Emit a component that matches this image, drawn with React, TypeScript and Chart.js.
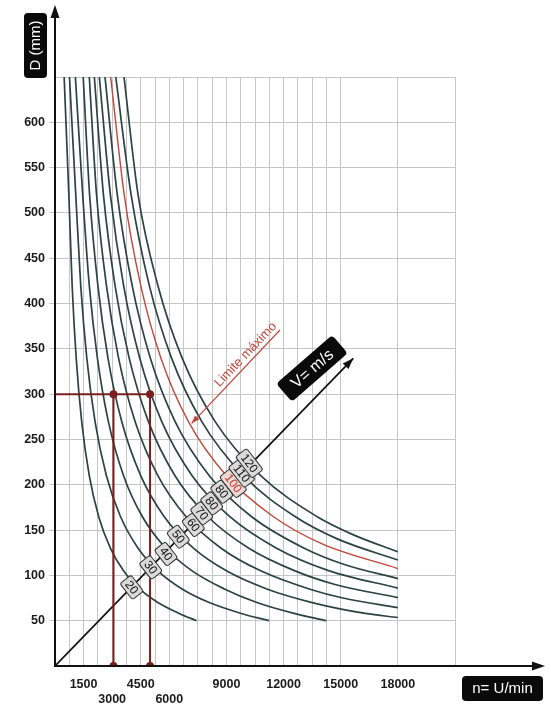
import React, { useEffect, useRef } from 'react';
import { Chart, registerables } from 'chart.js';

Chart.register(...registerables);

// ---- data (n in U/min, D in mm) ----
const speedLabels = ['20', '30', '40', '50', '60', '70', '80', '80', '100', '110', '120'];
const limitIndex = 8; // V = 100 m/s curve drawn in red

const curveV20 = [[480, 650], [727, 520], [900, 420], [1112, 340], [1400, 270], [1800, 210], [2291, 165], [2908, 130], [3600, 105], [4447, 85], [5400, 70], [6517, 58], [7430, 50]];
const curveV30 = [[760, 650], [1090, 520], [1350, 420], [1668, 340], [2100, 270], [2700, 210], [3436, 165], [4362, 130], [5400, 105], [6671, 85], [8100, 70], [9776, 58], [11240, 50]];
const curveV40 = [[1070, 650], [1454, 520], [1800, 420], [2224, 340], [2800, 270], [3600, 210], [4582, 165], [5815, 130], [7200, 105], [8894, 85], [10600, 70], [12550, 58], [14250, 50]];
const curveV50 = [[1480, 650], [1817, 520], [2250, 420], [2779, 340], [3500, 270], [4500, 210], [5727, 165], [7269, 130], [9000, 105], [11118, 85], [13500, 70], [16293, 58], [18000, 53.5]];
const curveV60 = [[1800, 650], [2181, 520], [2700, 420], [3335, 340], [4200, 270], [5400, 210], [6873, 165], [8723, 130], [10800, 105], [13341, 85], [15120, 75], [18000, 64.5]];
const curveV70 = [[2065, 650], [2544, 520], [3150, 420], [3891, 340], [4900, 270], [6300, 210], [8018, 165], [10177, 130], [12600, 105], [14700, 90], [18000, 75.5]];
const curveV80 = [[2327, 650], [2908, 520], [3600, 420], [4447, 340], [5600, 270], [7200, 210], [9164, 165], [11631, 130], [14400, 105], [18000, 86]];
const curveV90 = [[2625, 650], [3271, 520], [4050, 420], [5003, 340], [6300, 270], [8100, 210], [10309, 165], [13085, 130], [15188, 112], [18000, 96.5]];
const curveV100 = [[2923, 650], [3635, 520], [4500, 420], [5559, 340], [7000, 270], [9000, 210], [11455, 165], [14000, 135], [18000, 107.5]];
const curveV110 = [[3190, 650], [3998, 520], [4950, 420], [6115, 340], [7700, 270], [9900, 210], [12600, 165], [14850, 140], [18000, 117]];
const curveV120 = [[3622, 650], [4362, 520], [5400, 420], [6671, 340], [8400, 270], [10800, 210], [13745, 165], [15641, 145], [18000, 126]];
const curves = [curveV20, curveV30, curveV40, curveV50, curveV60, curveV70, curveV80, curveV90, curveV100, curveV110, curveV120];

// speed label boxes on the diagonal
const labelN = [4027, 5024, 5827, 6473, 7261, 7702, 8227, 8752, 9361, 9802, 10201];
const labelD = [86.8, 108.9, 123.6, 142.7, 155.6, 168.5, 179.5, 192.3, 201.6, 212.6, 223.7];

// diagonal V axis
const diagonalN = [0, 15660];
const diagonalD = [0, 339.5];

// "Limite máximo" pointer line (tail, head)
const limitLineN = [11812, 7175];
const limitLineD = [370.8, 267.8];
const limitTextN = 10017;
const limitTextD = 343.5;

// "V= m/s" box anchor
const vBoxN = 13492;
const vBoxD = 328.4;

// example reading: D = 300 mm
const exampleD = 300;
const exampleN = [3070, 4990];

// axes
const yTickValues = [50, 100, 150, 200, 250, 300, 350, 400, 450, 500, 550, 600];
const xTickValues = [1500, 3000, 4500, 6000, 9000, 12000, 15000, 18000];
const xTickRow = [0, 1, 0, 1, 0, 0, 0, 0];
const xGridExtra = [18000, 21000];

const CURVE = '#2b4341';
const LIMIT = '#c0473a';
const DARKRED = '#7a1f1f';
const GRID = '#c6c6c6';
const FONT = '"Liberation Sans", Arial, sans-serif';

function rr(ctx: CanvasRenderingContext2D, x: number, y: number, w: number, h: number, r: number) {
  ctx.beginPath();
  ctx.moveTo(x + r, y);
  ctx.lineTo(x + w - r, y);
  ctx.quadraticCurveTo(x + w, y, x + w, y + r);
  ctx.lineTo(x + w, y + h - r);
  ctx.quadraticCurveTo(x + w, y + h, x + w - r, y + h);
  ctx.lineTo(x + r, y + h);
  ctx.quadraticCurveTo(x, y + h, x, y + h - r);
  ctx.lineTo(x, y + r);
  ctx.quadraticCurveTo(x, y, x + r, y);
  ctx.closePath();
}

function arrowHead(ctx: CanvasRenderingContext2D, x1: number, y1: number, x2: number, y2: number, len: number, half: number, color: string) {
  const a = Math.atan2(y2 - y1, x2 - x1);
  ctx.save();
  ctx.fillStyle = color;
  ctx.translate(x2, y2);
  ctx.rotate(a);
  ctx.beginPath();
  ctx.moveTo(0, 0);
  ctx.lineTo(-len, -half);
  ctx.lineTo(-len, half);
  ctx.closePath();
  ctx.fill();
  ctx.restore();
}

const overlayPlugin = {
  id: 'overlay',
  afterDraw(chart: any) {
    const ctx: CanvasRenderingContext2D = chart.ctx;
    const xs = chart.scales.x;
    const ys = chart.scales.y;
    const X = (v: number) => xs.getPixelForValue(v);
    const Y = (v: number) => ys.getPixelForValue(v);
    const ox = X(0);
    const oy = Y(0);
    ctx.save();

    // axes with arrows
    ctx.strokeStyle = '#111';
    ctx.lineWidth = 2;
    ctx.beginPath();
    ctx.moveTo(ox, oy + 1);
    ctx.lineTo(ox, 16);
    ctx.stroke();
    arrowHead(ctx, ox, oy, ox, 5, 13, 4.5, '#111');
    ctx.beginPath();
    ctx.moveTo(ox - 1, oy);
    ctx.lineTo(535, oy);
    ctx.stroke();
    arrowHead(ctx, ox, oy, 545, oy, 13, 4.5, '#111');

    // diagonal arrow head
    arrowHead(ctx, X(diagonalN[0]), Y(diagonalD[0]), X(diagonalN[1]), Y(diagonalD[1]), 11, 4, '#111');

    // limit pointer arrow head
    arrowHead(ctx, X(limitLineN[0]), Y(limitLineD[0]), X(limitLineN[1]), Y(limitLineD[1]), 8, 3, LIMIT);

    // speed labels
    ctx.font = `12px ${FONT}`;
    ctx.textAlign = 'center';
    ctx.textBaseline = 'middle';
    speedLabels.forEach((t, i) => {
      const px = X(labelN[i]);
      const py = Y(labelD[i]);
      ctx.save();
      ctx.translate(px, py);
      ctx.rotate((52 * Math.PI) / 180);
      const w = ctx.measureText(t).width + 7;
      const h = 14;
      rr(ctx, -w / 2, -h / 2, w, h, 2.5);
      ctx.fillStyle = i === limitIndex ? '#ecd9d6' : '#dadada';
      ctx.fill();
      ctx.strokeStyle = '#333';
      ctx.lineWidth = 1;
      ctx.stroke();
      ctx.fillStyle = i === limitIndex ? '#c0392b' : '#111';
      ctx.fillText(t, 0, 0.5);
      ctx.restore();
    });

    // Limite máximo text
    ctx.save();
    ctx.translate(X(limitTextN), Y(limitTextD));
    ctx.rotate((-46.5 * Math.PI) / 180);
    ctx.font = `13px ${FONT}`;
    ctx.fillStyle = LIMIT;
    ctx.textAlign = 'center';
    ctx.textBaseline = 'middle';
    ctx.fillText('Limite máximo', 0, 0);
    ctx.restore();

    // V= m/s box
    ctx.save();
    ctx.translate(X(vBoxN), Y(vBoxD));
    ctx.rotate((-41 * Math.PI) / 180);
    rr(ctx, -37, -12, 74, 24, 4);
    ctx.fillStyle = '#0a0a0a';
    ctx.fill();
    ctx.font = `16px ${FONT}`;
    ctx.fillStyle = '#fff';
    ctx.textAlign = 'center';
    ctx.textBaseline = 'middle';
    ctx.fillText('V= m/s', 0, 1);
    ctx.restore();

    // D (mm) title box
    ctx.save();
    rr(ctx, 24, 13, 23, 65, 4);
    ctx.fillStyle = '#0a0a0a';
    ctx.fill();
    ctx.translate(36, 45.5);
    ctx.rotate(-Math.PI / 2);
    ctx.font = `15px ${FONT}`;
    ctx.fillStyle = '#fff';
    ctx.textAlign = 'center';
    ctx.textBaseline = 'middle';
    ctx.fillText('D (mm)', 0, 0);
    ctx.restore();

    // n= U/min title box
    ctx.save();
    rr(ctx, 462, 676, 81, 25, 4);
    ctx.fillStyle = '#0a0a0a';
    ctx.fill();
    ctx.font = `15px ${FONT}`;
    ctx.fillStyle = '#fff';
    ctx.textAlign = 'center';
    ctx.textBaseline = 'middle';
    ctx.fillText('n= U/min', 502.5, 689);
    ctx.restore();

    ctx.restore();
  },
};

export default function App() {
  const ref = useRef<HTMLCanvasElement | null>(null);

  useEffect(() => {
    if (!ref.current) return;
    const curveSets = curves.map((c, i) => ({
      type: 'line' as const,
      data: c.map(([x, y]) => ({ x, y })),
      borderColor: i === limitIndex ? LIMIT : CURVE,
      borderWidth: i === limitIndex ? 1.4 : 1.7,
      pointRadius: 0,
      cubicInterpolationMode: 'monotone' as const,
      order: 2,
    }));
    const overlaySets = [
      {
        type: 'line' as const,
        data: diagonalN.map((x, i) => ({ x, y: diagonalD[i] })),
        borderColor: '#111',
        borderWidth: 1.7,
        pointRadius: 0,
        order: 1,
      },
      {
        type: 'line' as const,
        data: limitLineN.map((x, i) => ({ x, y: limitLineD[i] })),
        borderColor: LIMIT,
        borderWidth: 1.2,
        pointRadius: 0,
        order: 1,
      },
      {
        type: 'line' as const,
        data: [{ x: 0, y: exampleD }, { x: exampleN[1], y: exampleD }],
        borderColor: DARKRED,
        borderWidth: 2,
        pointRadius: 0,
        order: 0,
      },
      ...exampleN.map((n) => ({
        type: 'line' as const,
        data: [{ x: n, y: 0 }, { x: n, y: exampleD }],
        borderColor: DARKRED,
        borderWidth: 2,
        pointRadius: 3,
        pointBackgroundColor: DARKRED,
        pointBorderColor: DARKRED,
        order: 0,
      })),
    ];

    const chart = new Chart(ref.current, {
      type: 'line',
      data: { datasets: [...overlaySets, ...curveSets] as any },
      options: {
        responsive: false,
        animation: false,
        events: [],
        layout: { padding: { left: 0, right: 96, top: 77, bottom: 0 } },
        plugins: { legend: { display: false }, tooltip: { enabled: false } },
        scales: {
          x: {
            type: 'linear',
            min: 0,
            max: 21000,
            afterFit: (s: any) => {
              s.height = 43;
            },
            border: { display: false },
            grid: {
              drawTicks: false,
              lineWidth: 1,
              color: (c: any) => {
                const v = c.tick ? c.tick.value : 0;
                if (v === 0) return 'rgba(0,0,0,0)';
                if (v > 15000 && !xGridExtra.includes(v)) return 'rgba(0,0,0,0)';
                return GRID;
              },
            },
            ticks: {
              stepSize: 750,
              autoSkip: false,
              maxRotation: 0,
              minRotation: 0,
              padding: 11,
              color: '#1a1a1a',
              font: { family: FONT, size: 12.5, weight: 'bold' },
              callback: (v: any) => {
                const i = xTickValues.indexOf(Number(v));
                if (i < 0) return '';
                return xTickRow[i] === 1 ? ['', String(xTickValues[i])] : String(xTickValues[i]);
              },
            },
          },
          y: {
            type: 'linear',
            min: 0,
            max: 650,
            afterFit: (s: any) => {
              s.width = 55;
            },
            border: { display: false },
            grid: {
              drawTicks: true,
              tickLength: 6,
              lineWidth: 1,
              color: (c: any) => (c.tick && c.tick.value === 0 ? 'rgba(0,0,0,0)' : GRID),
              tickColor: (c: any) =>
                c.tick && yTickValues.includes(c.tick.value) ? GRID : 'rgba(0,0,0,0)',
            },
            ticks: {
              stepSize: 50,
              padding: 4,
              color: '#1a1a1a',
              font: { family: FONT, size: 12.5, weight: 'bold' },
              callback: (v: any) => (yTickValues.includes(Number(v)) ? String(v) : ''),
            },
          },
        },
      },
      plugins: [overlayPlugin],
    });
    return () => chart.destroy();
  }, []);

  return (
    <div style={{ position: 'fixed', left: 0, top: 0, width: 551, height: 709, background: '#fff' }}>
      <canvas ref={ref} width={551} height={709} style={{ display: 'block', width: 551, height: 709 }} />
    </div>
  );
}
